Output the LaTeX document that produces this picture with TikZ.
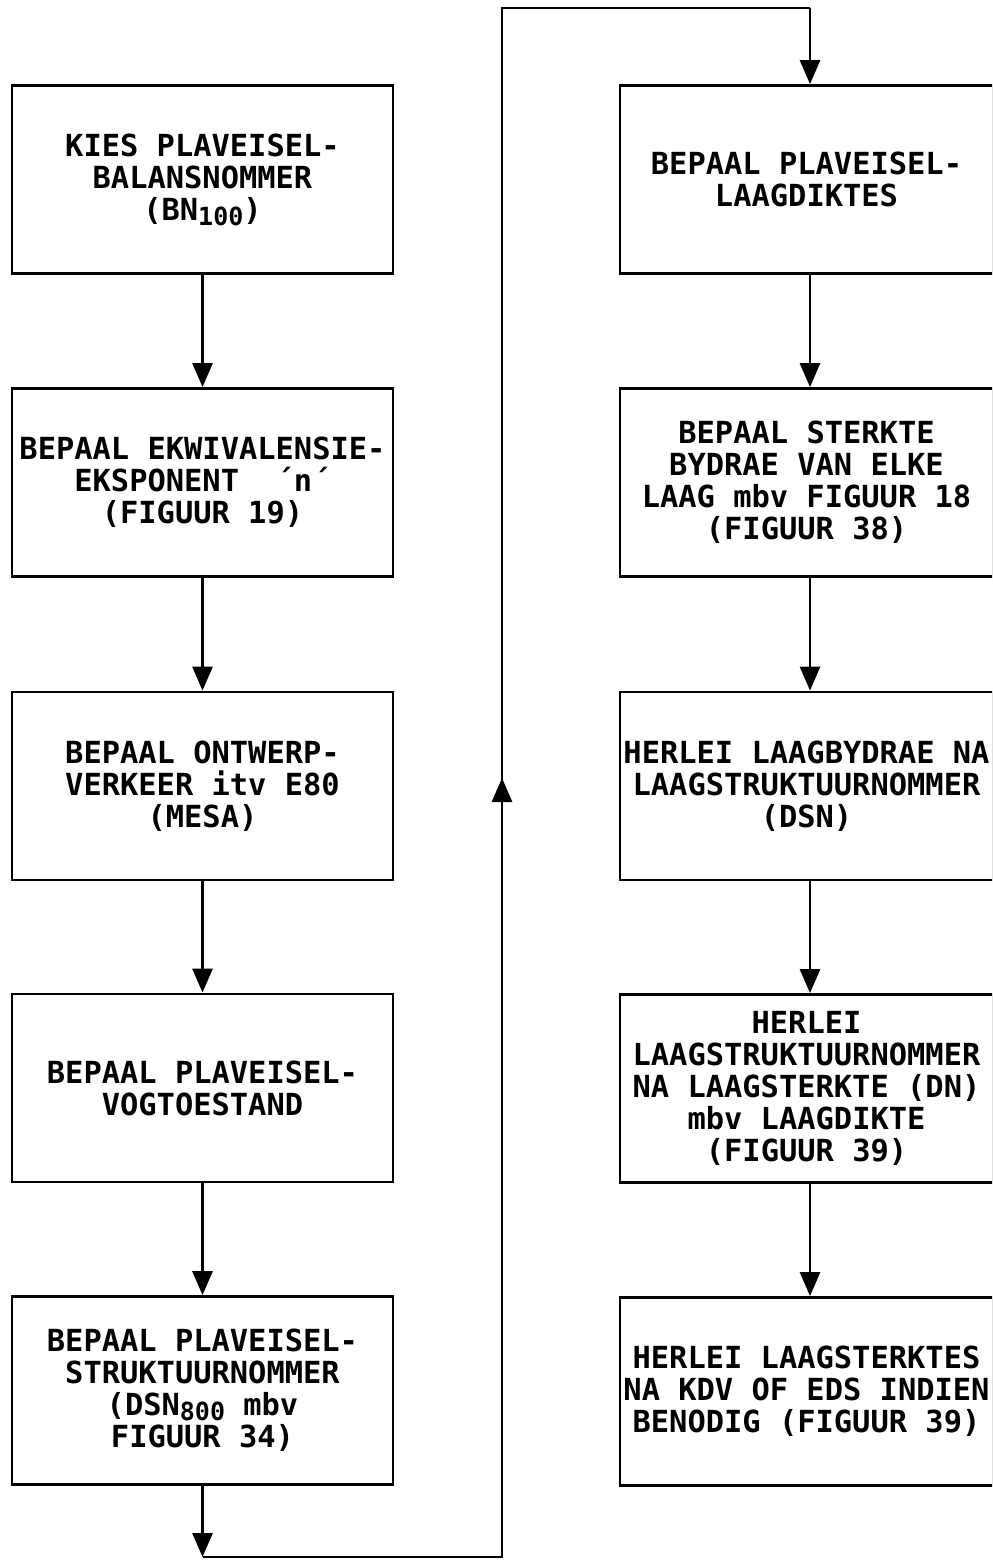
\documentclass[tikz,border=0pt]{standalone}
\usepackage{fontspec}
\setmonofont{DejaVu Sans Mono}
\newfontfamily\plotfont{DejaVu Sans Mono Bold}
\usetikzlibrary{arrows.meta}
\tikzset{
  x=0.5pt, y=-0.5pt,
  lbox/.style={draw, line width=1.4pt, minimum width=190.5pt, minimum height=94pt,
    inner sep=0pt, align=center, font=\plotfont\fontsize{15.2}{16}\selectfont},
  rbox/.style={lbox, minimum width=186.5pt},
  conn/.style={line width=1.4pt},
  arr/.style={conn, -{Triangle[length=12pt,width=10pt]}},
}
\newcommand{\lowsub}[1]{\smash{\raisebox{-0.3ex}{\fontsize{12.5}{12.5}\selectfont #1}}}
\begin{document}
\begin{tikzpicture}
\useasboundingbox (0,0) rectangle (992,1561);
\clip (0,0) rectangle (992,1561);
% left column
\node[lbox] (L1) at (202.5,179.5) {KIES PLAVEISEL-\\BALANSNOMMER\\(BN\lowsub{100})};
\node[lbox] (L2) at (202.5,482.5) {BEPAAL EKWIVALENSIE-\\EKSPONENT~~´n´\\(FIGUUR 19)};
\node[lbox] (L3) at (202.5,786) {BEPAAL ONTWERP-\\VERKEER itv E80\\(MESA)};
\node[lbox] (L4) at (202.5,1088) {BEPAAL PLAVEISEL-\\VOGTOESTAND};
\node[lbox] (L5) at (202.5,1390.5) {BEPAAL PLAVEISEL-\\STRUKTUURNOMMER\\(DSN\lowsub{800} mbv\\FIGUUR 34)};
% right column
\node[rbox] (R1) at (806.5,179.5) {BEPAAL PLAVEISEL-\\LAAGDIKTES};
\node[rbox] (R2) at (806.5,482.5) {BEPAAL STERKTE\\BYDRAE VAN ELKE\\LAAG mbv FIGUUR 18\\(FIGUUR 38)};
\node[rbox] (R3) at (806.5,786) {HERLEI LAAGBYDRAE NA\\LAAGSTRUKTUURNOMMER\\(DSN)};
\node[rbox] (R4) at (806.5,1088.5) {HERLEI\\LAAGSTRUKTUURNOMMER\\NA LAAGSTERKTE (DN)\\mbv LAAGDIKTE\\(FIGUUR 39)};
\node[rbox] (R5) at (806.5,1391.5) {HERLEI LAAGSTERKTES\\NA KDV OF EDS INDIEN\\BENODIG (FIGUUR 39)};
% left arrows
\draw[arr] (L1) -- (L2);
\draw[arr] (L2) -- (L3);
\draw[arr] (L3) -- (L4);
\draw[arr] (L4) -- (L5);
% return path
\coordinate (c1) at (202.5,1557);
\coordinate (c2) at (502,1557);
\coordinate (c5) at (502,778);
\coordinate (c3) at (502,8);
\coordinate (c4) at (810,8);
\draw[arr] (L5) -- (c1);
\draw[conn] (c1) -- (c2) -- (c3) -- (c4);
\draw[arr] (c2) -- (c5);
\draw[arr] (c4) -- (R1.north -| c4);
% right arrows
\draw[arr] (R1.south -| c4) -- (R2.north -| c4);
\draw[arr] (R2.south -| c4) -- (R3.north -| c4);
\draw[arr] (R3.south -| c4) -- (R4.north -| c4);
\draw[arr] (R4.south -| c4) -- (R5.north -| c4);
\end{tikzpicture}
\end{document}
